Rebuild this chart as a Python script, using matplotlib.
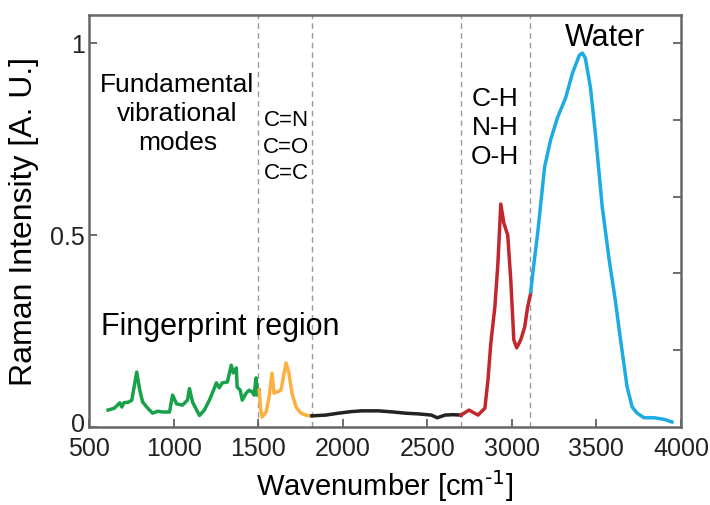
import matplotlib.pyplot as plt
import matplotlib.transforms as mtransforms

plt.rcParams['font.family'] = ['Liberation Sans', 'DejaVu Sans']

# fingerprint region (green)
wn_green = [612, 650, 682, 694, 706, 735, 753, 782, 800, 817, 847, 876, 906, 935, 976,
            994, 1018, 1053, 1082, 1094, 1112, 1153, 1182, 1212, 1229, 1253, 1270, 1288,
            1318, 1341, 1353, 1371, 1376, 1394, 1406, 1429, 1447, 1465, 1476, 1488, 1494, 1506]
int_green = [0.044, 0.049, 0.063, 0.052, 0.063, 0.065, 0.07, 0.143, 0.096, 0.065, 0.049, 0.036,
             0.041, 0.039, 0.039, 0.083, 0.060, 0.057, 0.07, 0.10, 0.065, 0.03, 0.044, 0.07,
             0.088, 0.115, 0.102, 0.115, 0.117, 0.161, 0.141, 0.154, 0.104, 0.096, 0.07,
             0.088, 0.096, 0.091, 0.083, 0.128, 0.083, 0.096]

# C=N / C=O / C=C (orange)
wn_orange = [1506, 1515, 1524, 1547, 1565, 1582, 1594, 1612, 1635, 1665, 1682, 1700, 1724, 1753, 1790, 1818]
int_orange = [0.096, 0.044, 0.026, 0.039, 0.078, 0.14, 0.088, 0.091, 0.096, 0.167, 0.141, 0.088,
              0.052, 0.036, 0.030, 0.029]

# silent region (black)
wn_black = [1818, 1900, 1976, 2050, 2112, 2212, 2300, 2370, 2450, 2524, 2559, 2606, 2650, 2700]
int_black = [0.029, 0.031, 0.036, 0.040, 0.042, 0.042, 0.039, 0.036, 0.034, 0.031, 0.024, 0.031,
             0.032, 0.031]

# C-H / N-H / O-H (red)
wn_red = [2700, 2747, 2800, 2841, 2859, 2876, 2900, 2918, 2935, 2953, 2976, 2994, 3012, 3029,
          3053, 3076, 3094, 3112]
int_red = [0.031, 0.044, 0.031, 0.049, 0.122, 0.218, 0.313, 0.427, 0.581, 0.531, 0.50, 0.383,
           0.227, 0.206, 0.227, 0.26, 0.313, 0.349]

# water (blue)
wn_blue = [3112, 3124, 3153, 3194, 3229, 3271, 3318, 3359, 3400, 3418, 3435, 3465, 3494, 3535,
           3576, 3612, 3641, 3682, 3712, 3741, 3782, 3841, 3900, 3947]
int_blue = [0.352, 0.40, 0.505, 0.677, 0.747, 0.807, 0.857, 0.922, 0.969, 0.974, 0.961, 0.885,
            0.766, 0.573, 0.435, 0.331, 0.234, 0.104, 0.052, 0.036, 0.024, 0.024, 0.020, 0.013]

boundaries = [1500, 1820, 2700, 3110]

fig = plt.figure(figsize=(7.1, 5.05), dpi=100)
ax = fig.add_axes([0.1254, 0.1545, 0.8336, 0.8155])

for b in boundaries:
    ax.axvline(b, color='#999999', lw=1, ls=(0, (4, 3)), zorder=1)

lw = 2.5
ax.plot(wn_green, int_green, color='#17a24a', lw=lw)
ax.plot(wn_orange, int_orange, color='#fbb040', lw=lw)
ax.plot(wn_black, int_black, color='#222222', lw=lw)
ax.plot(wn_red, int_red, color='#c1272d', lw=lw)
ax.plot(wn_blue, int_blue, color='#1cabe2', lw=lw)

ax.set_xlim(500, 4000)
ax.set_ylim(0, 1.073)
ax.set_xticks(range(500, 4001, 500))
ax.set_yticks([0, 0.5, 1])
ax.set_yticklabels(['0', '0.5', '1'])
ax.tick_params(direction='in', length=6, width=1.2, color='#555555',
               labelsize=18, labelcolor='#222222')
ax.tick_params(axis='x', pad=7)
ax.tick_params(axis='y', pad=3)
for s in ax.spines.values():
    s.set_color('#666666')
    s.set_linewidth(1.8)

# lift the "0" label a bit so it sits above "500" like the original
zero_lbl = ax.get_yticklabels()[0]
zero_lbl.set_transform(zero_lbl.get_transform() +
                       mtransforms.ScaledTranslation(0, 3 / 72, fig.dpi_scale_trans))

sec = ax.secondary_yaxis('right')
sec.set_yticks([0.2, 0.4, 0.6, 0.8, 1.0])
sec.set_yticklabels([])
sec.tick_params(direction='in', length=6, width=1.2, color='#555555')
sec.spines['right'].set_visible(False)

ax.set_xlabel('Wavenumber [cm$^{\\text{-1}}$]', fontsize=21, labelpad=5)
ax.set_ylabel('Raman Intensity [A. U.]', fontsize=23, labelpad=8)

ax.text(1023, 0.815, 'Fundamental\nvibrational\nmodes', fontsize=19, ha='center', va='center',
        multialignment='center', linespacing=1.25)
ax.text(1665, 0.729, 'C=N\nC=O\nC=C', fontsize=16, ha='center', va='center',
        multialignment='center', linespacing=1.35)
ax.text(2900, 0.779, 'C-H\nN-H\nO-H', fontsize=19, ha='center', va='center',
        multialignment='center', linespacing=1.25)
ax.text(3553, 1.013, 'Water', fontsize=22, ha='center', va='center')
ax.text(1276, 0.26, 'Fingerprint region', fontsize=22, ha='center', va='center')

fig.savefig('out.png', dpi=100)
